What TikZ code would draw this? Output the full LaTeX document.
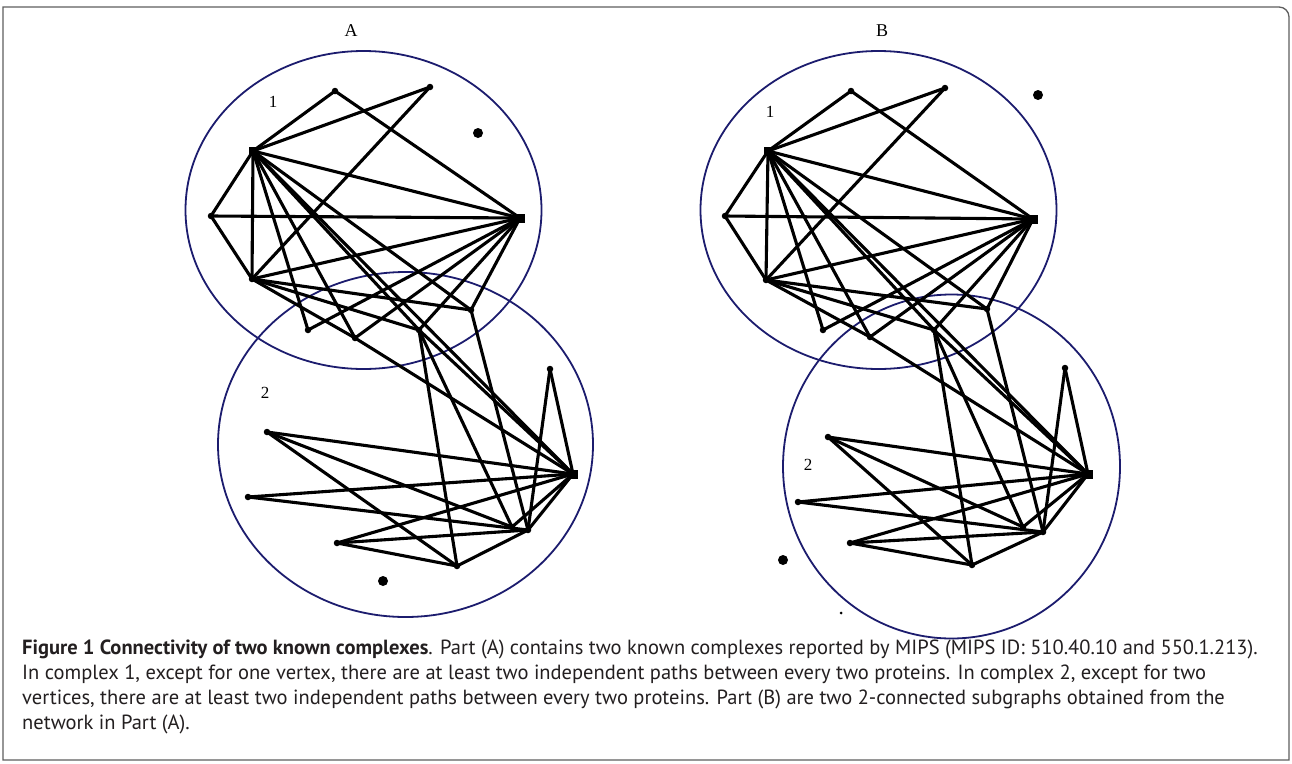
\documentclass[tikz,border=0pt]{standalone}
\usepackage{fontspec}
\setmainfont{Liberation Serif}
\newfontfamily\capfont{PT Sans}
\definecolor{ringblue}{RGB}{28,28,110}
\definecolor{captiongray}{RGB}{35,31,32}
\definecolor{framegray}{RGB}{95,95,95}
\begin{document}
\begin{tikzpicture}[x=1pt,y=-1pt,
  vtx/.style={circle,fill=black,inner sep=0pt,minimum size=6.5pt},
  hubvtx/.style={rectangle,fill=black,inner sep=0pt,minimum size=9pt},
  isovtx/.style={circle,fill=black,inner sep=0pt,minimum size=10pt},
  tinyvtx/.style={circle,fill=black,inner sep=0pt,minimum size=3pt},
  link/.style={line width=3.1pt,black,line cap=round},
  ring/.style={draw=ringblue,line width=1.8pt},
  partlbl/.style={font=\fontsize{18}{18}\selectfont},
  cplbl/.style={font=\fontsize{17}{17}\selectfont},
  captext/.style={anchor=base west,inner sep=0pt,text=captiongray,
    font=\capfont\fontsize{20.5}{20.5}\selectfont}]
\useasboundingbox (0,0) rectangle (1292,763);
\fill[white] (0,0) rectangle (1292,763);

% outer frame, rounded at the upper right
\draw[framegray,line width=1.3pt] (3,760) -- (3,7) -- (1279,7)
  arc[start angle=-90,end angle=0,radius=10] -- (1289,760) -- cycle;

% complex outlines
\draw[ring] (363.5,210) ellipse[x radius=178,y radius=159];
\draw[ring] (405.5,444.5) ellipse[x radius=187.5,y radius=172.5];
\draw[ring] (878.5,210) ellipse[x radius=178,y radius=159];
\draw[ring] (951.5,466.5) ellipse[x radius=168.5,y radius=172];

% part and complex labels
\node[partlbl] (labA) at (351,31) {A};
\node[partlbl] (labB) at (882,31) {B};
\node[cplbl] (a1) at (273,102) {1};
\node[cplbl] (a2) at (265,393) {2};
\node[cplbl] (b1) at (770,112) {1};
\node[cplbl] (b2) at (808,465) {2};

% ---- network A ----
\node[vtx] (aT1) at (335,91) {};
\node[vtx] (aT2) at (430,87) {};
\node[hubvtx] (aH) at (253,151) {};
\node[vtx] (aL) at (211,216) {};
\node[hubvtx] (aR) at (520,218) {};
\node[vtx] (aLL) at (252,279) {};
\node[vtx] (aM1) at (308,330) {};
\node[vtx] (aM2) at (355,338) {};
\node[vtx] (aM3) at (419,330) {};
\node[vtx] (aM4) at (471,310) {};
\node[isovtx] (aD1) at (478,133) {};
\node[vtx] (aS) at (550,369) {};
\node[hubvtx] (aR2) at (573,474) {};
\node[vtx] (aP1) at (267,432) {};
\node[vtx] (aP2) at (248,497) {};
\node[vtx] (aP3) at (337,543) {};
\node[vtx] (aP4) at (457,566) {};
\node[vtx] (aP5) at (528,530) {};
\node[vtx] (aP6) at (512,527) {};
\node[isovtx] (aD2) at (383,581) {};

% ---- network B ----
\node[vtx] (bT1) at (851,91) {};
\node[vtx] (bT2) at (945,88) {};
\node[hubvtx] (bH) at (768,151) {};
\node[vtx] (bL) at (725,216) {};
\node[hubvtx] (bR) at (1033,219) {};
\node[vtx] (bLL) at (766,280) {};
\node[vtx] (bM1) at (823,330) {};
\node[vtx] (bM2) at (870,337) {};
\node[vtx] (bM3) at (934,330) {};
\node[vtx] (bM4) at (987,309) {};
\node[isovtx] (bD1) at (1038,95) {};
\node[vtx] (bS) at (1065,368) {};
\node[hubvtx] (bR2) at (1088,474) {};
\node[vtx] (bP1) at (828,437) {};
\node[vtx] (bP2) at (798,502) {};
\node[vtx] (bP3) at (850,543) {};
\node[vtx] (bP4) at (972,565) {};
\node[vtx] (bP5) at (1043,532) {};
\node[vtx] (bP6) at (1023,527) {};
\node[isovtx] (bD2) at (783,560) {};
\node[tinyvtx] (bD3) at (841,613) {};

% interactions, identical in both networks
\foreach \p in {a,b}{
  \foreach \u/\v in {H/T1,H/T2,T1/R,T2/LL,H/L,L/LL,H/LL,L/R,H/R,LL/R,
      H/M1,H/M2,H/M3,H/M4,H/R2,
      R/M1,R/M2,R/M3,R/M4,
      LL/M2,LL/M3,LL/M4,M2/R2,
      M3/P4,M3/P6,M3/R2,M4/P5,
      S/R2,S/P5,P1/R2,P1/P6,P1/P4,P2/R2,P2/P5,P3/R2,P3/P5,P3/P4,
      P4/P5,P5/R2,P6/R2}
    \draw[link] (\p\u.center) -- (\p\v.center);
}

% caption
\node[captext] (cap1) at (22,654) {\textbf{Figure 1 Connectivity of two known complexes}. Part (A) contains two known complexes reported by MIPS (MIPS ID: 510.40.10 and 550.1.213).};
\node[captext] (cap2) at (22,679) {In complex 1, except for one vertex, there are at least two independent paths between every two proteins. In complex 2, except for two};
\node[captext] (cap3) at (22,704) {vertices, there are at least two independent paths between every two proteins. Part (B) are two 2-connected subgraphs obtained from the};
\node[captext] (cap4) at (22,729) {network in Part (A).};
\end{tikzpicture}
\end{document}
